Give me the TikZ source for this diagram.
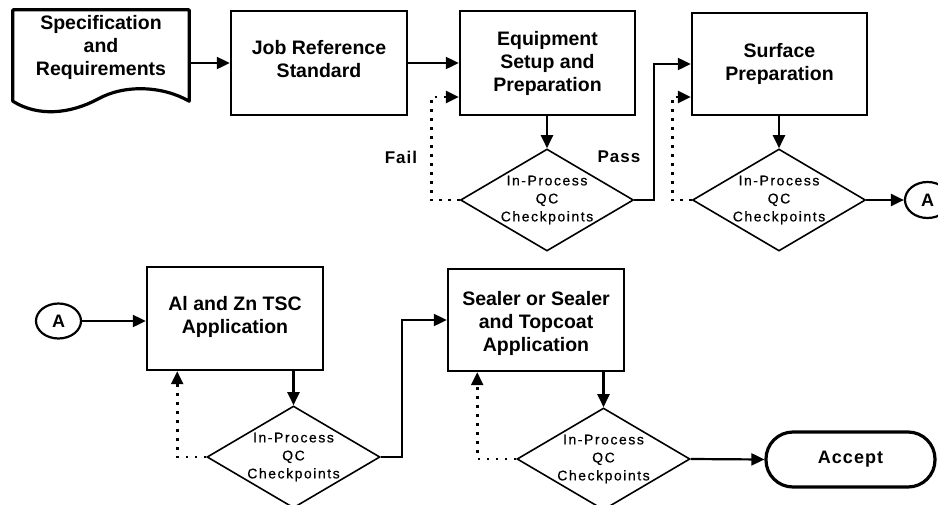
\documentclass[tikz,border=0pt]{standalone}
\usepackage{fontspec}
\setmainfont{Liberation Sans}
\newfontfamily\qcfont[LetterSpace=11,FakeBold=0.6]{Liberation Sans}
\newfontfamily\lblfont[LetterSpace=6]{Liberation Sans}
\usetikzlibrary{arrows.meta,shapes.geometric}

\begin{document}
\begin{tikzpicture}[x=1pt,y=-1pt,
  >={Triangle[length=13pt,width=12pt]},
  procbox/.style={draw, line width=2.4pt, inner sep=0pt, minimum width=176pt, minimum height=103pt},
  boxtext/.style={align=center, inner sep=0pt, font=\bfseries\fontsize{19.5}{23}\selectfont},
  check/.style={draw, diamond, line width=1.6pt, inner sep=0pt, minimum width=173pt, minimum height=102pt},
  qctext/.style={align=center, inner sep=0pt, font=\qcfont\fontsize{14}{18}\selectfont},
  conn/.style={line width=2.2pt, ->},
  retry/.style={line width=2.6pt, dash pattern=on 2.6pt off 6.4pt, ->},
  steplabel/.style={inner sep=0pt, font=\lblfont\bfseries\fontsize{17}{20}\selectfont},
  offpage/.style={draw, ellipse, line width=2.2pt, inner sep=0pt, minimum width=45pt, minimum height=36pt, font=\bfseries\fontsize{18}{20}\selectfont}
]
\useasboundingbox (0,0) rectangle (938,504);

% ---- top row ----
% document symbol with wavy lower edge
\node[inner sep=0pt, minimum width=176pt, minimum height=91pt] (spec) at (101,55.5) {};
\draw[line width=3.2pt, line join=round]
  (spec.south west) -- (spec.north west) -- (spec.north east) -- (spec.south east)
  .. controls (163,86) and (125,84) .. (98,99)
  .. controls (70,114) and (38,117) .. (spec.south west) -- cycle;
\node[boxtext] (spectext) at (101,47.5) {Specification\\and\\Requirements};

\node[procbox, minimum height=104pt] (job) at (319,63) {};
\node[boxtext] (jobtext) at (319,59.5) {Job Reference\\Standard};

\node[procbox, minimum width=175pt, minimum height=104pt] (eq) at (547.5,63) {};
\node[boxtext] (eqtext) at (547.5,63) {Equipment\\Setup and\\Preparation};

\node[check] (d1) at (547,200) {};
\node[qctext] (d1text) at (547,200) {In-Process\\QC\\Checkpoints};

\node[procbox, minimum width=175pt, minimum height=102pt] (surf) at (779.5,64) {};
\node[boxtext] (surftext) at (779.5,63.5) {Surface\\Preparation};

\node[check] (d2) at (779,200) {};
\node[qctext] (d2text) at (779,200) {In-Process\\QC\\Checkpoints};

\node[offpage] (a1) at (927.5,200) {A};

\node[steplabel] (fail) at (401,157) {Fail};
\node[steplabel] (pass) at (619,157) {Pass};

\draw[conn] (spec.east |- job.west) -- (job.west);
\draw[conn] (job.east) -- (eq.west);
\draw[conn] (eq.south -| d1.north) -- (d1.north);
\draw[conn] (d1.east) -- ++(20,0) coordinate (p1) -- (p1 |- surf.west) -- (surf.west);
\draw[retry] (d1.west) -- ++(-28.5,0) coordinate (f1) -- (f1 |- 0,97) -- (eq.west |- 0,97);
\draw[conn] (surf.south -| d2.north) -- (d2.north);
\draw[retry] (d2.west) -- ++(-19.5,0) coordinate (f2) -- (f2 |- 0,97) -- (surf.west |- 0,97);
\draw[conn] (d2.east) -- (a1.west);

% ---- bottom row ----
\node[offpage, minimum height=35pt] (a2) at (58.5,321) {A};

\node[procbox] (alzn) at (235,318.5) {};
\node[boxtext] (alzntext) at (235,317) {Al and Zn TSC\\Application};

\node[check] (d3) at (293.5,457) {};
\node[qctext] (d3text) at (293.5,457) {In-Process\\QC\\Checkpoints};

\node[procbox, minimum height=102pt] (seal) at (536,320) {};
\node[boxtext] (sealtext) at (536,323.5) {Sealer or Sealer\\and Topcoat\\Application};

\node[check] (d4) at (603.5,459) {};
\node[qctext] (d4text) at (603.5,459) {In-Process\\QC\\Checkpoints};

\node[draw, line width=3.2pt, rounded corners=27pt, minimum width=169pt, minimum height=55pt, inner sep=0pt,
      font=\lblfont\bfseries\fontsize{18}{20}\selectfont] (accept) at (850.5,459.5) {Accept};

\draw[conn] (a2.east) -- (alzn.west |- a2.east);
\draw[conn] (alzn.south -| d3.north) -- (d3.north);
\draw[retry] (d3.west) -- ++(-29,0) coordinate (f3) -- (f3 |- alzn.south);
\draw[conn] (d3.east) -- ++(21,0) coordinate (p3) -- (p3 |- seal.west) -- (seal.west);
\draw[conn] (seal.south -| d4.north) -- (d4.north);
\draw[retry] (d4.west) -- ++(-39,0) coordinate (f4) -- (f4 |- seal.south);
\draw[conn] (d4.east) -- (accept.west);
\end{tikzpicture}
\end{document}
